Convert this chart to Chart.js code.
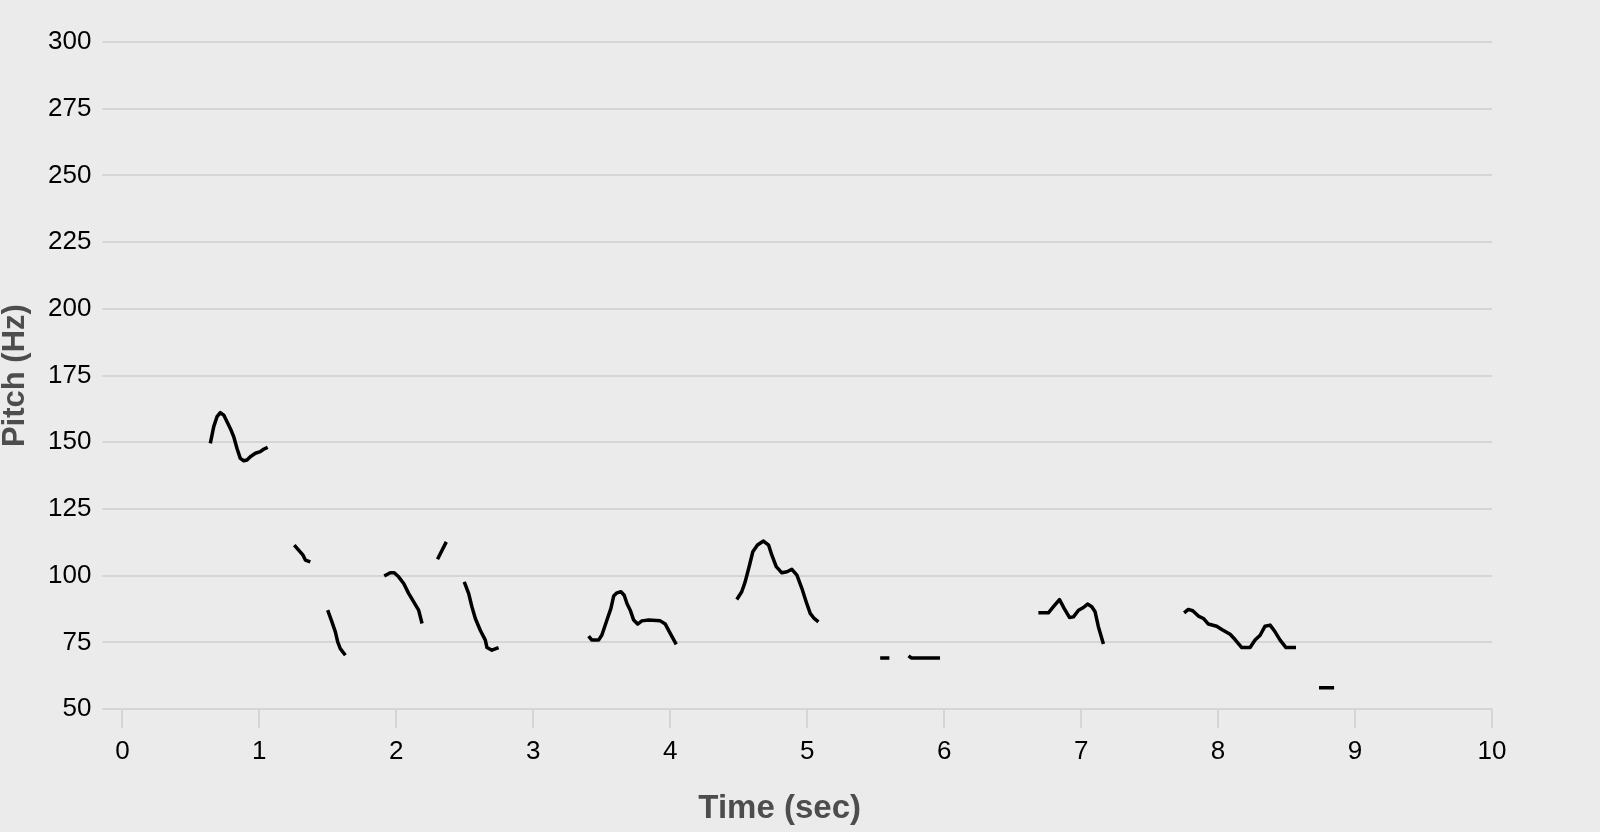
<!DOCTYPE html>
<html lang="en">
<head>
  <meta charset="UTF-8">
  <title>Pitch contour</title>
  <script src="https://cdn.jsdelivr.net/npm/chart.js@4.4.1/dist/chart.umd.min.js"></script>
  <style>
    html, body {
      margin: 0;
      padding: 0;
      background: #ebebeb;
    }
    #wrap {
      width: 1600px;
      height: 832px;
      position: relative;
    }
  </style>
</head>
<body>
  <div id="wrap">
    <canvas id="pitchChart"></canvas>
  </div>

  <script>
    // pitch track, null pitch = unvoiced gap between segments
    const timeSec = [
      0.642, 0.667, 0.691, 0.715, 0.740, 0.764, 0.788, 0.813, 0.837, 0.861, 0.886, 0.910, 0.934, 0.971, 1.007, 1.031, 1.061,
      1.15,
      1.255, 1.287, 1.319, 1.336, 1.372,
      1.43,
      1.499, 1.530, 1.555, 1.572, 1.591, 1.628,
      1.75,
      1.912, 1.956, 1.985, 2.017, 2.054, 2.090, 2.127, 2.163, 2.188,
      2.25,
      2.301, 2.365,
      2.43,
      2.496, 2.528, 2.552, 2.577, 2.613, 2.650, 2.662, 2.698, 2.747,
      3.0,
      3.404, 3.428, 3.477, 3.501, 3.538, 3.567, 3.587, 3.611, 3.640, 3.664, 3.684, 3.708, 3.733, 3.762, 3.793, 3.842, 3.927, 3.964, 4.000, 4.044,
      4.3,
      4.486, 4.522, 4.547, 4.576, 4.603, 4.637, 4.681, 4.718, 4.742, 4.774, 4.815, 4.852, 4.888, 4.925, 4.961, 4.993, 5.022, 5.051, 5.082,
      5.3,
      5.533, 5.600,
      5.67,
      5.740, 5.760, 5.970,
      6.3,
      6.688, 6.761, 6.798, 6.842, 6.876, 6.915, 6.944, 6.981, 7.017, 7.047, 7.078, 7.102, 7.126, 7.163,
      7.5,
      7.752, 7.783, 7.815, 7.856, 7.893, 7.929, 7.990, 8.027, 8.088, 8.124, 8.173, 8.234, 8.270, 8.307, 8.343, 8.380, 8.416, 8.453, 8.496, 8.569,
      8.65,
      8.737, 8.847
    ];
    const pitchHz = [
      149.6, 155.9, 159.6, 161.1, 160.2, 157.7, 155.2, 152.1, 147.7, 144.0, 143.1, 143.4, 144.6, 145.9, 146.5, 147.4, 148.1,
      null,
      111.5, 109.6, 107.7, 105.9, 105.2,
      null,
      87.1, 82.7, 79.0, 75.2, 72.7, 70.2,
      null,
      99.9, 101.1, 101.1, 99.6, 97.1, 93.4, 90.2, 87.1, 82.1,
      null,
      106.2, 112.7,
      null,
      97.7, 93.4, 88.4, 84.0, 79.6, 75.9, 73.1, 72.1, 73.1,
      null,
      77.4, 75.9, 75.9, 77.8, 83.4, 87.8, 92.4, 93.6, 94.0, 92.7, 89.6, 87.1, 83.4, 81.9, 83.1, 83.4, 83.1, 81.9, 78.4, 74.3,
      null,
      91.1, 94.0, 97.7, 103.4, 109.0, 111.5, 113.0, 111.5, 107.7, 103.4, 101.1, 101.5, 102.4, 100.2, 95.3, 90.2, 85.9, 84.0, 82.7,
      null,
      69.2, 69.2,
      null,
      70.0, 69.2, 69.2,
      null,
      86.1, 86.1, 88.4, 91.1, 87.8, 84.4, 84.6, 87.1, 88.1, 89.4, 88.4, 86.5, 80.9, 74.4,
      null,
      86.1, 87.4, 86.9, 84.9, 84.0, 81.9, 81.1, 79.9, 78.1, 76.1, 73.1, 73.1, 75.9, 77.7, 81.1, 81.5, 79.0, 75.9, 73.1, 73.1,
      null,
      58.0, 58.0
    ];
    const xTicks = [0, 1, 2, 3, 4, 5, 6, 7, 8, 9, 10];
    const yTicks = [50, 75, 100, 125, 150, 175, 200, 225, 250, 275, 300];

    const points = timeSec.map((t, i) => ({x: t, y: pitchHz[i]}));
    const gridColor = '#d5d5d5';
    const fam = '"Liberation Sans", Arial, sans-serif';
    const tickFont = {family: fam, size: 26};

    new Chart(document.getElementById('pitchChart'), {
      type: 'line',
      data: {
        datasets: [{
          label: 'Pitch',
          data: points,
          borderColor: '#000',
          borderWidth: 3.5,
          borderJoinStyle: 'round',
          pointRadius: 0,
          tension: 0,
          spanGaps: false,
          fill: false
        }]
      },
      options: {
        responsive: true,
        maintainAspectRatio: false,
        animation: false,
        layout: {padding: {top: 42, right: 108, bottom: 0, left: 0}},
        plugins: {
          legend: {display: false},
          tooltip: {enabled: false}
        },
        scales: {
          x: {
            type: 'linear',
            min: xTicks[0],
            max: xTicks[xTicks.length - 1],
            afterBuildTicks: axis => { axis.ticks = xTicks.map(v => ({value: v})); },
            grid: {drawOnChartArea: false, drawTicks: true, tickLength: 19, color: gridColor, lineWidth: 2},
            border: {display: false},
            ticks: {color: '#000', font: tickFont, padding: 8, maxRotation: 0},
            // trailing spaces nudge the centred title left like the original
            title: {display: true, text: 'Time (sec)      ', color: '#4d4d4d',
                    font: {family: fam, size: 33, weight: 'bold'}, padding: {top: 14, bottom: 3}}
          },
          y: {
            min: yTicks[0],
            max: yTicks[yTicks.length - 1],
            afterBuildTicks: axis => { axis.ticks = yTicks.map(v => ({value: v})); },
            grid: {color: gridColor, lineWidth: 2, tickLength: 20},
            border: {display: false},
            ticks: {color: '#000', font: tickFont, padding: 11},
            title: {display: true, text: 'Pitch (Hz)', color: '#4d4d4d',
                    font: {family: fam, size: 31, weight: 'bold', lineHeight: 1}, padding: {top: 0, bottom: 6}}
          }
        }
      }
    });
  </script>
</body>
</html>
